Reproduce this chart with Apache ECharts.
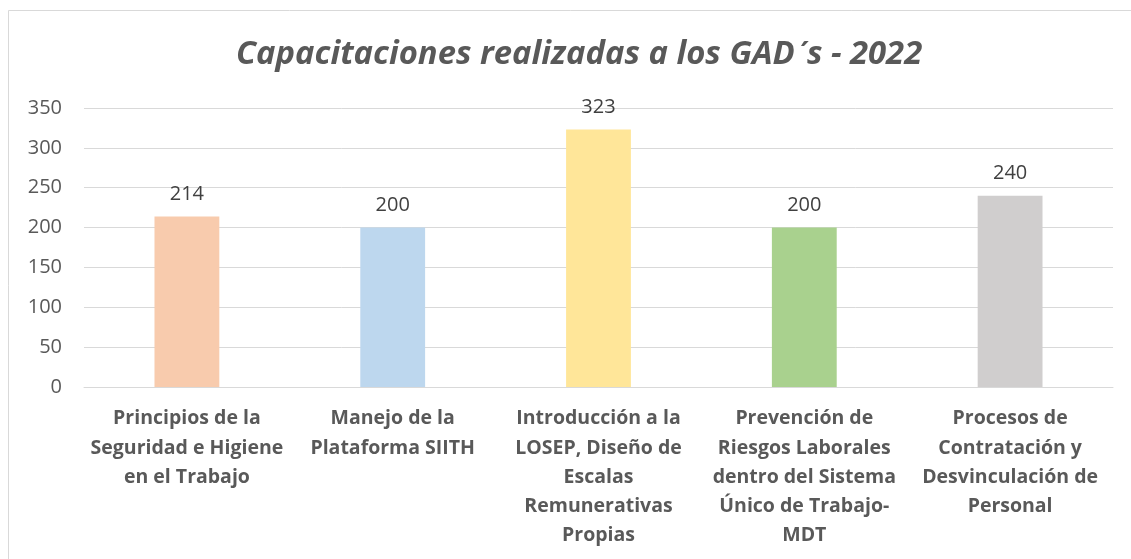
<!DOCTYPE html>
<html>
<head>
<meta charset="utf-8">
<style>
    html, body { margin: 0; padding: 0; background: #fff; }
    #main { width: 1131px; height: 559px; }
</style>
<script src="https://cdn.jsdelivr.net/npm/echarts@6/dist/echarts.min.js"></script>
</head>
<body>
<div id="main"></div>
<script>
// 数据
var categories = [
    'Principios de la\nSeguridad e Higiene\nen el Trabajo',
    'Manejo de la\nPlataforma SIITH',
    'Introducción a la\nLOSEP, Diseño de\nEscalas\nRemunerativas\nPropias',
    'Prevención de\nRiesgos Laborales\ndentro del Sistema\nÚnico de Trabajo-\nMDT',
    'Procesos de\nContratación y\nDesvinculación de\nPersonal'
];
var values = [214, 200, 323, 200, 240];
var barColors = ['#F8CBAD', '#BDD7EE', '#FFE699', '#A9D18E', '#D0CECE'];
var yTicks = { min: 0, max: 350, interval: 50 };

var myChart = echarts.init(document.getElementById('main'));
// 标题文字样式（´ 单独用 Lato 避免叠在字母上）
var titleStyle = {
    color: '#595959',
    fontSize: 32.8,
    fontStyle: 'italic',
    fontWeight: 'bold',
    fontFamily: 'Open Sans'
};
var option = {
    backgroundColor: '#fff',
    textStyle: { fontFamily: 'Open Sans' },
    // 外边框
    graphic: [{
        type: 'rect',
        shape: { x: 8.5, y: 10.5, width: 1300, height: 700 },
        style: { fill: 'none', stroke: '#d9d9d9', lineWidth: 1 },
        silent: true
    }],
    title: {
        text: 'Capacitaciones realizadas a los GAD{acc|´}s - 2022',
        left: 231,
        top: 33,
        textStyle: Object.assign({}, titleStyle, {
            rich: {
                acc: Object.assign({}, titleStyle, { fontFamily: 'Lato' })
            }
        })
    },
    grid: {
        left: 84,
        right: 18,
        top: 108,
        bottom: 172
    },
    xAxis: {
        type: 'category',
        data: categories,
        axisTick: { show: false },
        axisLine: { lineStyle: { color: '#d9d9d9', width: 1 } },
        axisLabel: {
            interval: 0,
            color: '#595959',
            fontSize: 19.5,
            fontWeight: 'bold',
            lineHeight: 29.3,
            margin: 17,
            fontFamily: 'Open Sans'
        }
    },
    yAxis: {
        type: 'value',
        min: yTicks.min,
        max: yTicks.max,
        interval: yTicks.interval,
        axisLine: { show: false },
        axisTick: { show: false },
        axisLabel: {
            color: '#595959',
            fontSize: 20,
            margin: 22,
            fontFamily: 'Open Sans'
        },
        splitLine: { lineStyle: { color: '#d9d9d9', width: 1 } }
    },
    series: [{
        type: 'bar',
        barWidth: '31.5%',
        data: values.map(function (v, i) {
            return { value: v, itemStyle: { color: barColors[i] } };
        }),
        label: {
            show: true,
            position: 'top',
            distance: 12,
            color: '#404040',
            fontSize: 20,
            fontFamily: 'Open Sans'
        }
    }]
};
myChart.setOption(option);
window.addEventListener('resize', function () {
    myChart.resize();
});
</script>
</body>
</html>
